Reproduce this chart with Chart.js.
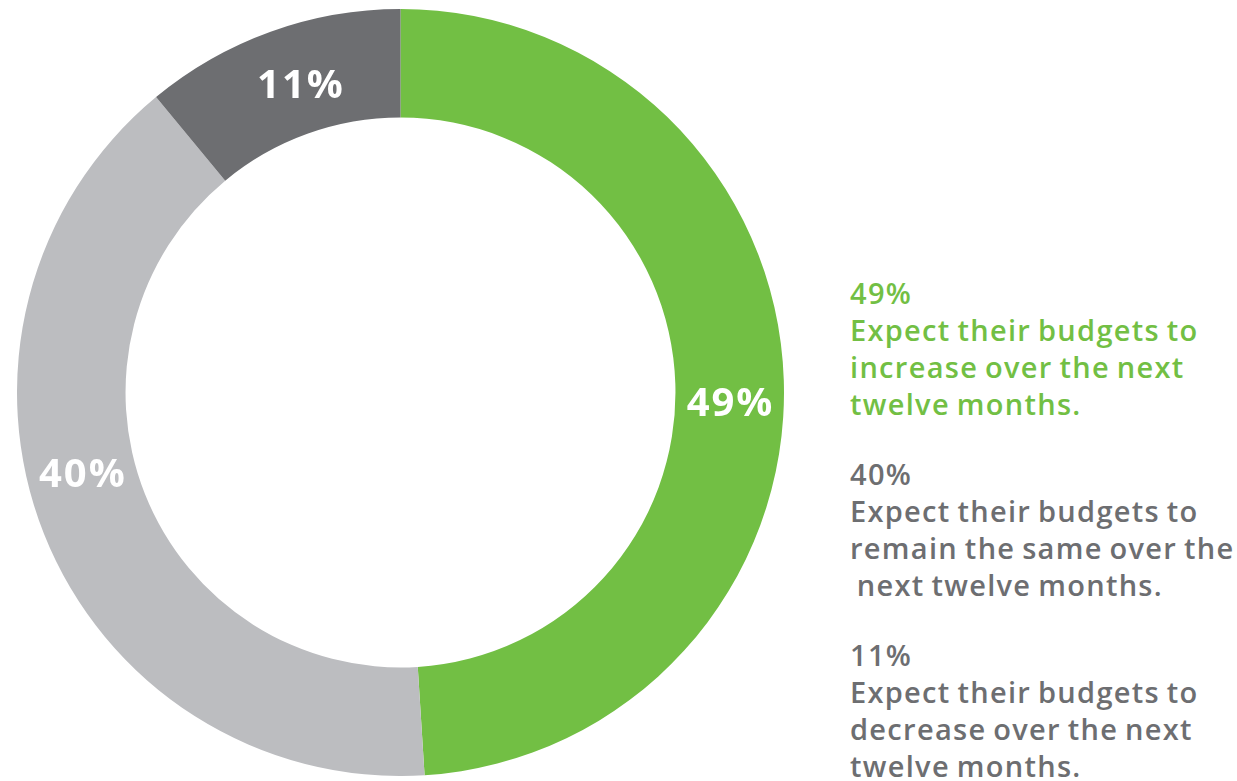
<!DOCTYPE html>
<html>
<head>
<meta charset="utf-8">
<script src="https://cdn.jsdelivr.net/npm/chart.js@4/dist/chart.umd.min.js"></script>
<style>
  html, body { margin: 0; padding: 0; background: #fff; }
  body { width: 1237px; height: 781px; position: relative; overflow: hidden; font-family: "Open Sans", sans-serif; }
  #wrap { position: absolute; left: 17px; top: 9px; width: 767px; height: 767px; }
  #legend { position: absolute; left: 850px; top: 274px; font-size: 29px; font-weight: 600; line-height: 37px; letter-spacing: 1.3px; word-spacing: -2px; }
  #legend .grp { margin-bottom: 33px; white-space: pre; }
</style>
</head>
<body>
<div id="wrap"><canvas id="chart" width="767" height="767"></canvas></div>
<div id="legend"></div>
<script>
// Budget outlook shares (percent of respondents)
const categories = ['Increase', 'Remain the same', 'Decrease'];
const values = [49, 40, 11];
const colors = ['#72BF44', '#BCBDC0', '#6D6E71'];
const legendColors = ['#72BF44', '#6D6E71', '#6D6E71'];
const legendLines = [
  ['Expect their budgets to', 'increase over the next', 'twelve months.'],
  ['Expect their budgets to', 'remain the same over the', ' next twelve months.'],
  ['Expect their budgets to', 'decrease over the next', 'twelve months.']
];

// Percentage labels drawn inside each ring segment
const ringLabels = {
  id: 'ringLabels',
  afterDatasetsDraw(chart, args, opts) {
    const ctx = chart.ctx;
    const meta = chart.getDatasetMeta(0);
    ctx.save();
    ctx.fillStyle = '#ffffff';
    ctx.font = '700 40px "Open Sans"';
    ctx.letterSpacing = '2px';
    ctx.textAlign = 'center';
    ctx.textBaseline = 'middle';
    meta.data.forEach((arc, i) => {
      const p = arc.getProps(['x', 'y', 'startAngle', 'endAngle', 'innerRadius', 'outerRadius'], true);
      const [af, rf] = opts.place[i];
      const a = p.startAngle + (p.endAngle - p.startAngle) * af;
      const r = p.innerRadius + (p.outerRadius - p.innerRadius) * rf;
      ctx.fillText(values[i] + '%', p.x + Math.cos(a) * r + 1, p.y + Math.sin(a) * r);
    });
    ctx.restore();
  }
};

new Chart(document.getElementById('chart'), {
  type: 'doughnut',
  data: {
    labels: categories,
    datasets: [{
      data: values,
      backgroundColor: colors,
      borderWidth: 0,
      hoverOffset: 0
    }]
  },
  options: {
    responsive: false,
    animation: false,
    cutout: '71.7%',
    layout: { padding: 0 },
    plugins: {
      legend: { display: false },
      tooltip: { enabled: false },
      ringLabels: { place: [[0.522, 0.5], [0.549, 0.5], [0.54, 0.43]] }
    }
  },
  plugins: [ringLabels]
});

// Text legend on the right
const legend = document.getElementById('legend');
values.forEach((v, i) => {
  const g = document.createElement('div');
  g.className = 'grp';
  g.style.color = legendColors[i];
  g.textContent = [v + '%'].concat(legendLines[i]).join('\n');
  legend.appendChild(g);
});
</script>
</body>
</html>
